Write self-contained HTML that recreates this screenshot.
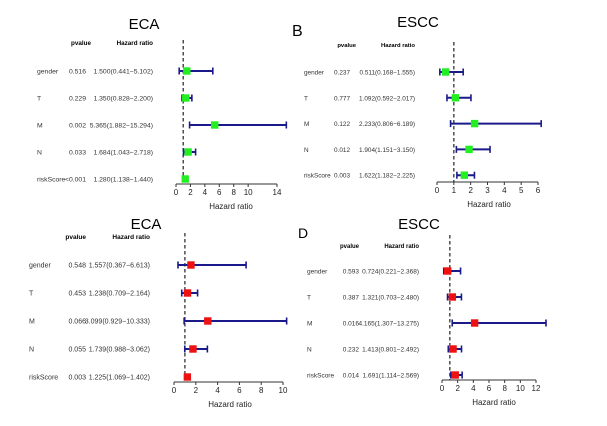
<!DOCTYPE html>
<html><head><meta charset="utf-8"><style>
body{margin:0;background:#fff;}
svg{display:block;font-family:"Liberation Sans",sans-serif;}
</style></head><body>
<svg id="fig" width="607" height="426" viewBox="0 0 607 426" xmlns="http://www.w3.org/2000/svg">
<rect width="607" height="426" fill="#fff"/>
<text x="292" y="36" font-size="16" fill="#000">B</text>
<text x="298" y="238" font-size="14" fill="#000">D</text>
</svg>
<script>
const variables = ["gender","T","M","N","riskScore"];
const pA = ["0.516","0.229","0.002","0.033","<0.001"];
const hrA = [1.500,1.350,5.365,1.684,1.280];
const loA = [0.441,0.828,1.882,1.043,1.138];
const hiA = [5.102,2.200,15.294,2.718,1.440];
const labA = ["1.500(0.441\u22125.102)","1.350(0.828\u22122.200)","5.365(1.882\u221215.294)","1.684(1.043\u22122.718)","1.280(1.138\u22121.440)"];
const ticksA = [0,2,4,6,8,10,14];

const pB = ["0.237","0.777","0.122","0.012","0.003"];
const hrB = [0.511,1.092,2.233,1.904,1.622];
const loB = [0.168,0.592,0.806,1.151,1.182];
const hiB = [1.555,2.017,6.189,3.150,2.225];
const labB = ["0.511(0.168\u22121.555)","1.092(0.592\u22122.017)","2.233(0.806\u22126.189)","1.904(1.151\u22123.150)","1.622(1.182\u22122.225)"];
const ticksB = [0,1,2,3,4,5,6];

const pC = ["0.548","0.453","0.066","0.055","0.003"];
const hrC = [1.557,1.238,3.099,1.739,1.225];
const loC = [0.367,0.709,0.929,0.988,1.069];
const hiC = [6.613,2.164,10.333,3.062,1.402];
const labC = ["1.557(0.367\u22126.613)","1.238(0.709\u22122.164)","3.099(0.929\u221210.333)","1.739(0.988\u22123.062)","1.225(1.069\u22121.402)"];
const ticksC = [0,2,4,6,8,10];

const pD = ["0.593","0.387","0.016","0.232","0.014"];
const hrD = [0.724,1.321,4.165,1.413,1.691];
const loD = [0.221,0.703,1.307,0.801,1.114];
const hiD = [2.368,2.480,13.275,2.492,2.569];
const labD = ["0.724(0.221\u22122.368)","1.321(0.703\u22122.480)","4.165(1.307\u221213.275)","1.413(0.801\u22122.492)","1.691(1.114\u22122.569)"];
const ticksD = [0,2,4,6,8,10,12];

const NS="http://www.w3.org/2000/svg";
const svg=document.getElementById('fig');
function mk(tag,attrs,parent,txt){const e=document.createElementNS(NS,tag);for(const k in attrs)e.setAttribute(k,attrs[k]);if(txt!==undefined)e.textContent=txt;(parent||svg).appendChild(e);return e;}

function panel(cfg){
  const g=mk('g',{});
  
  
  const sx=v=>cfg.x0+(v-0)*(cfg.x1-cfg.x0)/(cfg.max);
  const fs=cfg.fs;
  const t=mk('text',{x:cfg.titleX,y:cfg.titleY,'font-size':15,'text-anchor':'middle'},g,cfg.title);
  
  
  const h1=mk('text',{x:cfg.headP,y:cfg.headY,'font-size':fs-0.5,'font-weight':'bold','text-anchor':'end'},g,'pvalue');
  
  
  const h2=mk('text',{x:cfg.hrR,y:cfg.headY,'font-size':fs-0.5,'font-weight':'bold','text-anchor':'end'},g,'Hazard ratio');
  
  
  const ref=mk('line',{x1:sx(1),x2:sx(1),y1:cfg.refTop,y2:cfg.axisY,stroke:'#333','stroke-width':1.3,'stroke-dasharray':'3.5,2.5'},g);
  
  
  for(let i=0;i<variables.length;i++){
    const y=cfg.rowY0+i*cfg.rowStep;
    const n=mk('text',{x:cfg.nameX,y:y+2.5,'font-size':fs,fill:'#333'},g,variables[i]);
    
    
    const p=mk('text',{x:cfg.pR,y:y+2.5,'font-size':fs,fill:'#333','text-anchor':'end'},g,cfg.p[i]);
    
    
    const h=mk('text',{x:cfg.hrR,y:y+2.5,'font-size':fs,fill:'#333','text-anchor':'end'},g,cfg.lab[i]);
    
    
    const a=sx(cfg.lo[i]),b=sx(cfg.hi[i]);
    const ln=mk('line',{x1:a,x2:b,y1:y,y2:y,stroke:'#1a1a8a','stroke-width':2},g);
    
    
    const c1=mk('line',{x1:a,x2:a,y1:y-3.5,y2:y+3.5,stroke:'#1a1a8a','stroke-width':1.6},g);
    
    
    const c2=mk('line',{x1:b,x2:b,y1:y-3.5,y2:y+3.5,stroke:'#1a1a8a','stroke-width':1.6},g);
    
    
    const sq=mk('rect',{x:sx(cfg.hr[i])-3.7,y:y-3.7,width:7.4,height:7.4,fill:cfg.color},g);
    
    
  }
  const ax=mk('line',{x1:sx(0),x2:sx(cfg.max),y1:cfg.axisY,y2:cfg.axisY,stroke:'#333','stroke-width':1},g);
  
  
  cfg.ticks.forEach(v=>{
    const tk=mk('line',{x1:sx(v),x2:sx(v),y1:cfg.axisY,y2:cfg.axisY+3,stroke:'#333','stroke-width':1},g);
    
    
    const tl=mk('text',{x:sx(v),y:cfg.axisY+11,'font-size':8,'text-anchor':'middle',fill:'#222'},g,String(v));
    
    
  });
  const at=mk('text',{x:cfg.axTitleX,y:cfg.axisY+25,'font-size':8,'text-anchor':'middle',fill:'#222'},g,'Hazard ratio');
  
  
}

panel({id:'panel-a-eca',title:'ECA',titleX:144,titleY:29,headY:45,nameX:37,pR:86,headP:91,hrR:153,fs:6.8,
  rowY0:71,rowStep:27,x0:176,x1:277,max:14,axisY:184,refTop:40,axTitleX:231,
  p:pA,hr:hrA,lo:loA,hi:hiA,lab:labA,ticks:ticksA,color:'#22ee22'});
panel({id:'panel-b-escc',title:'ESCC',titleX:418,titleY:27,headY:47,nameX:304,pR:350,headP:356,hrR:415,fs:6.4,
  rowY0:72,rowStep:25.8,x0:437,x1:538,max:6,axisY:182,refTop:42,axTitleX:489,
  p:pB,hr:hrB,lo:loB,hi:hiB,lab:labB,ticks:ticksB,color:'#22ee22'});
panel({id:'panel-c-eca',title:'ECA',titleX:146,titleY:229,headY:239,nameX:29,pR:86,headP:86,hrR:150,fs:7,
  rowY0:265,rowStep:28,x0:174,x1:283,max:10,axisY:382,refTop:233,axTitleX:230,
  p:pC,hr:hrC,lo:loC,hi:hiC,lab:labC,ticks:ticksC,color:'#ee1111'});
panel({id:'panel-d-escc',title:'ESCC',titleX:419,titleY:229,headY:248,nameX:307,pR:359,headP:359,hrR:419,fs:6.5,
  rowY0:271,rowStep:26,x0:442,x1:536,max:12,axisY:380,refTop:235,axTitleX:494,
  p:pD,hr:hrD,lo:loD,hi:hiD,lab:labD,ticks:ticksD,color:'#ee1111'});
</script>
</body></html>
